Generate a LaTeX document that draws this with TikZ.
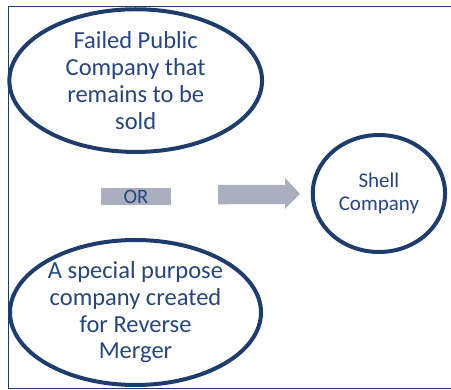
\documentclass[tikz,border=0pt]{standalone}
\usepackage{fontspec}
\setmainfont{Carlito}
\usetikzlibrary{shapes.geometric}
\definecolor{navy}{HTML}{1F3D6C}
\definecolor{txtblue}{HTML}{27467E}
\definecolor{boxgray}{HTML}{A9AFBE}
\tikzset{
  oval/.style={ellipse, draw=navy, line width=4pt, inner sep=0pt, align=center, text=txtblue},
  bigtext/.style={font=\fontsize{24.5}{26.7}\selectfont},
  frameline/.style={draw=navy, line width=1.1pt},
}
\begin{document}
\begin{tikzpicture}[x=1pt, y=-1pt]
\useasboundingbox (0,0) rectangle (451,390);
\fill[white] (0,0) rectangle (451,390);
% frame
\coordinate (ftl) at (8.5,6.5);
\coordinate (ftr) at (452,6.5);
\coordinate (fbl) at (8.5,388.5);
\coordinate (fbr) at (452,388.5);
\draw[frameline] (ftr) -- (ftl) -- (fbl) -- (fbr);
% ellipses
\node[oval, bigtext, minimum width=252.7pt, minimum height=142.7pt] (failed) at (135.7,80.6)
  {Failed Public\\Company that\\remains to be\\sold};
\node[oval, bigtext, minimum width=251pt, minimum height=145pt] (spc) at (135.5,312.5)
  {A special purpose\\company created\\for Reverse\\Merger};
\node[oval, font=\fontsize{21}{23}\selectfont, minimum width=132.3pt, minimum height=117pt] (shell) at (378.9,193.5)
  {Shell\\Company};
% OR box
\node[fill=boxgray, minimum width=70pt, minimum height=16.7pt, inner sep=0pt, text=txtblue,
  font=\fontsize{20.5}{20.5}\selectfont] (or) at (136,196.5) {OR};
% block arrow
\coordinate (a1) at (218,185);
\coordinate (a2) at (285,185);
\coordinate (a3) at (285,178);
\coordinate (a4) at (300,193.8);
\coordinate (a5) at (285,209);
\coordinate (a6) at (285,204);
\coordinate (a7) at (218,204.3);
\fill[boxgray] (a1) -- (a2) -- (a3) -- (a4) -- (a5) -- (a6) -- (a7) -- cycle;
\end{tikzpicture}
\end{document}
